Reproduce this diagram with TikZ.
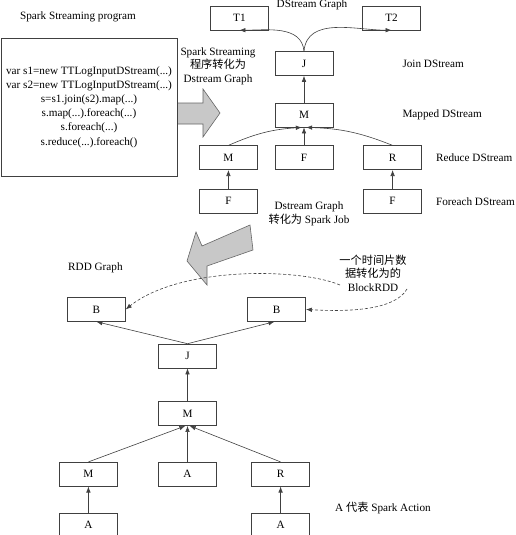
\documentclass[tikz,border=0pt]{standalone}
\usepackage{fontspec}
\setmainfont{Liberation Serif}
\newfontfamily\cjk{Noto Sans CJK SC}
\usetikzlibrary{arrows.meta, positioning}
\definecolor{bigarrow}{RGB}{200,200,200}

\begin{document}
\begin{tikzpicture}[
    x=1pt, y=-1pt,
    font=\fontsize{11.2}{13.5}\selectfont,
    box/.style={draw=black!75, line width=0.6pt, minimum width=58pt, minimum height=24pt, inner sep=0pt},
    lbl/.style={align=center, inner sep=0pt},
    arrow/.style={-{Latex[length=6pt,width=4.5pt]}, draw=black!75, line width=0.6pt},
    dashline/.style={arrow, dash pattern=on 3pt off 2pt},
    fat/.style={fill=bigarrow, draw=black!60, line width=0.6pt}
]
\useasboundingbox (0,0) rectangle (515,535);

% Program
\node (progtitle) [lbl] at (78,17) {Spark Streaming program};
\node (prog) [box, minimum width=176pt, minimum height=138pt, align=center,
    font=\fontsize{11.2}{14.2}\selectfont] at (89,107)
    {var s1=new TTLogInputDStream(...)\\var s2=new TTLogInputDStream(...)\\
     s=s1.join(s2).map(...)\\s.map(...).foreach(...)\\s.foreach(...)\\
     s.reduce(...).foreach()};
\draw [fat] (178,103) -- (203,103) -- (203,89) -- (220,113) -- (203,137) -- (203,124) -- (178,124);
\node (tolabel) [lbl] at (218,66) {Spark Streaming\\{\cjk 程序转化为}\\Dstream Graph};

% DStream Graph nodes
\node (dtitle) [lbl] at (312,5) {DStream Graph};
\node (J) [box] at (304,63.5) {J};
\node (T1) [box, above left=21pt and 6pt of J] {T1};
\node (T2) [box, above right=21pt and 29pt of J] {T2};
\node (M) [box, below=27pt of J] {M};
\node (F) [box, below=18pt of M] {F};
\node (M1) [box, left=17pt of F] {M};
\node (R) [box, right=30pt of F] {R};
\node (F1) [box, below=19pt of M1] {F};
\node (F2) [box, below=19pt of R] {F};

\node (joinlbl) [lbl, anchor=west, right=69pt of J] {Join DStream};
\node (maplbl) [lbl, anchor=west, right=69pt of M] {Mapped DStream};
\node (redlbl) [lbl, anchor=west, right=14pt of R] {Reduce DStream};
\node (forlbl) [lbl, anchor=west, right=14pt of F2] {Foreach DStream};

% DStream Graph arrows
\draw [arrow] (J.north) to[out=95, in=0] (T1.south);
\draw [arrow] (J.north) to[out=85, in=180] (T2.south);
\draw [arrow] (M) -- (J);
\draw [arrow] (M1.north) to[bend left=10] (M.-100);
\draw [arrow] (F) -- (M);
\draw [arrow] (R.north) to[bend right=10] (M.-80);
\draw [arrow] (F1) -- (M1);
\draw [arrow] (F2) -- (R);

% to Spark Job
\node (joblabel) [lbl] at (309,214) {Dstream Graph\\{\cjk 转化为} Spark Job};
\draw [fat] (250,225) -- (202,246) -- (196,232) -- (187,261) -- (207,285) -- (207,266) -- (253,250) -- cycle;

% RDD Graph nodes
\node (rddtitle) [lbl, anchor=west] at (68,268) {RDD Graph};
\node (Jb) [box] at (187.5,356) {J};
\node (B1) [box, above left=22pt and 32.5pt of Jb] {B};
\node (B2) [box, above right=22pt and 30.5pt of Jb] {B};
\node (Mb) [box, below=33pt of Jb] {M};
\node (Ab) [box, below=36pt of Mb] {A};
\node (Mb1) [box, left=40.5pt of Ab] {M};
\node (Rb) [box, right=34.5pt of Ab] {R};
\node (Ab1) [box, below=26pt of Mb1] {A};
\node (Ab2) [box, below=26pt of Rb] {A};

\node (blklbl) [lbl] at (373,273) {{\cjk 一个时间片数}\\{\cjk 据转化为的}\\BlockRDD};
\coordinate (blkleft) at (340,285);
\coordinate (blkright) at (407,289);
\node (actlbl) [lbl, anchor=west] at (335,508) {A {\cjk 代表} Spark Action};

% RDD Graph arrows
\draw [arrow] (Jb.north) -- (B1.south);
\draw [arrow] (Jb.north) -- (B2.-100);
\draw [arrow] (Mb) -- (Jb);
\draw [arrow] (Mb1.north) -- (Mb.-100);
\draw [arrow] (Ab) -- (Mb);
\draw [arrow] (Rb.north) -- (Mb.-80);
\draw [arrow] (Ab1) -- (Mb1);
\draw [arrow] (Ab2) -- (Rb);
\draw [dashline] (blkleft) .. controls (300,268) and (180,266) .. (B1.east);
\draw [dashline] (blkright) .. controls (395,310) and (350,312) .. (B2.east);

\end{tikzpicture}
\end{document}
